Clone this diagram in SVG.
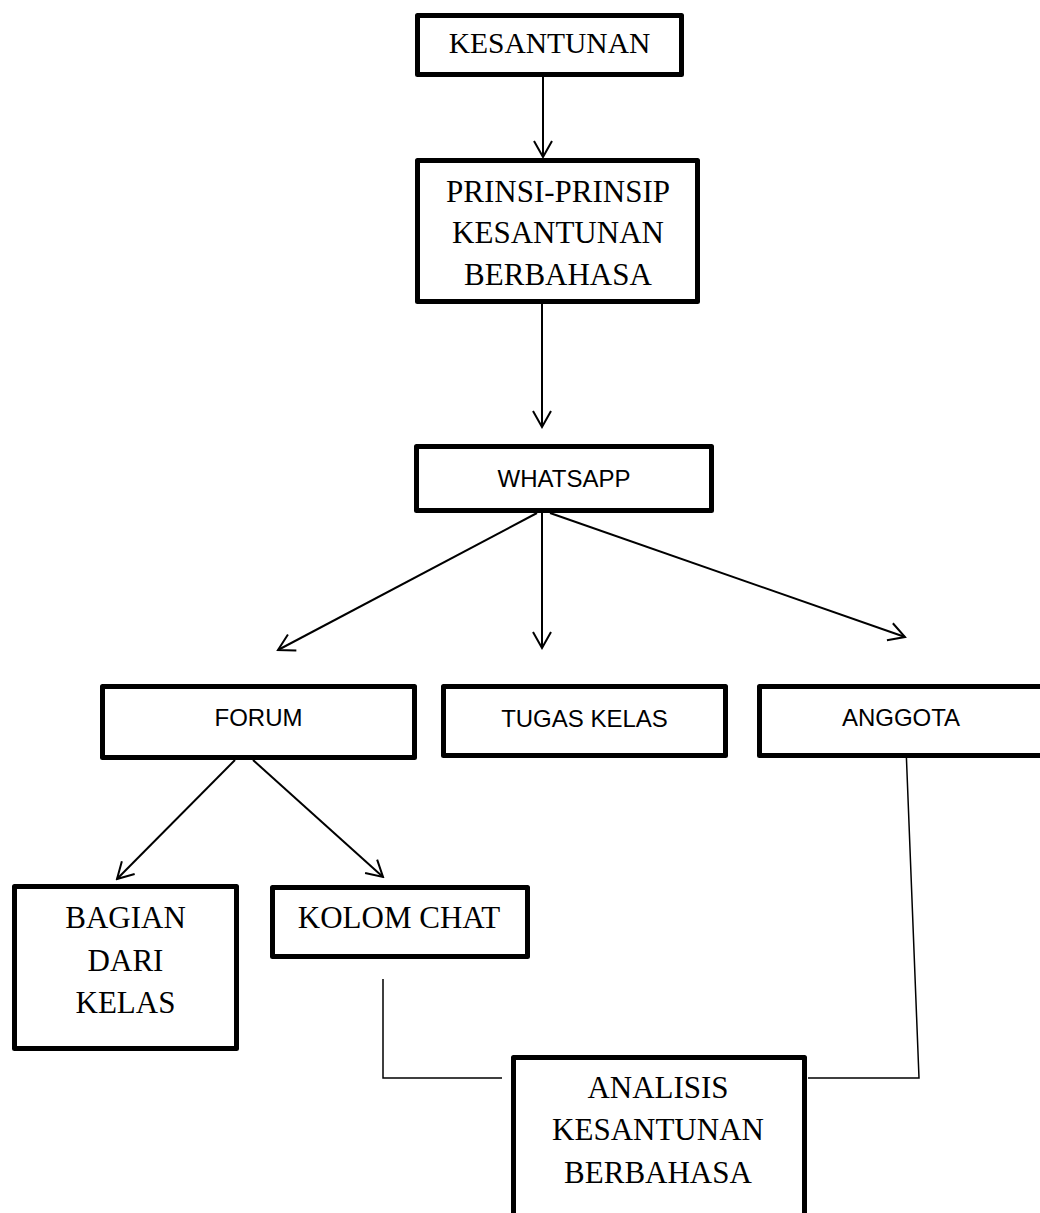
<svg xmlns="http://www.w3.org/2000/svg" width="1040" height="1213" viewBox="0 0 1040 1213">
<style>
.box{fill:#fff;stroke:#000;stroke-width:5;stroke-linejoin:round}
.serif{font-family:"Liberation Serif","Times New Roman",serif;font-size:31px;fill:#000;text-anchor:middle}
.sans{font-family:"Liberation Sans",Arial,sans-serif;font-size:24px;fill:#000;text-anchor:middle}
.arrow{fill:none;stroke:#000;stroke-width:2;marker-end:url(#head)}
.link{fill:none;stroke:#000;stroke-width:1.5}
</style>
<defs>
<marker id="head" markerUnits="userSpaceOnUse" viewBox="-18 -11 20 22" refX="0" refY="0" markerWidth="20" markerHeight="22" orient="auto">
<path d="M-16,-9 L0,0 L-16,9" fill="none" stroke="#000" stroke-width="2"/>
</marker>
</defs>
<rect width="1040" height="1213" fill="#fff"/>
<g id="connectors">
<line class="arrow" x1="543" y1="77" x2="543" y2="157"/>
<line class="arrow" x1="542" y1="304" x2="542" y2="427"/>
<line class="arrow" x1="537" y1="513" x2="278" y2="650"/>
<line class="arrow" x1="542" y1="513" x2="542" y2="648"/>
<line class="arrow" x1="550" y1="513" x2="905" y2="637"/>
<line class="arrow" x1="235" y1="760" x2="117" y2="879"/>
<line class="arrow" x1="253" y1="760" x2="383" y2="877"/>
<polyline class="link" points="906,747 919,1078 808,1078"/>
<polyline class="link" points="383,979 383,1078 502,1078"/>
</g>
<g id="kesantunan">
<rect class="box" x="417.5" y="15.5" width="264" height="59"/>
<text class="serif" x="549.5" y="53" style="font-size:29.5px">KESANTUNAN</text>
</g>
<g id="prinsip">
<rect class="box" x="417.5" y="160.5" width="280" height="141"/>
<text class="serif" x="558" y="202">PRINSI-PRINSIP</text>
<text class="serif" x="558" y="243">KESANTUNAN</text>
<text class="serif" x="558" y="285">BERBAHASA</text>
</g>
<g id="whatsapp">
<rect class="box" x="416.5" y="446.5" width="295" height="64"/>
<text class="sans" x="564" y="487">WHATSAPP</text>
</g>
<g id="forum">
<rect class="box" x="102.5" y="686.5" width="312" height="71"/>
<text class="sans" x="258.5" y="726">FORUM</text>
</g>
<g id="tugas">
<rect class="box" x="443.5" y="686.5" width="282" height="69"/>
<text class="sans" x="584.5" y="727">TUGAS KELAS</text>
</g>
<g id="anggota">
<rect class="box" x="759.5" y="686.5" width="300" height="69"/>
<text class="sans" x="901" y="726">ANGGOTA</text>
</g>
<g id="bagian">
<rect class="box" x="14.5" y="886.5" width="222" height="162"/>
<text class="serif" x="125.5" y="928">BAGIAN</text>
<text class="serif" x="125.5" y="971">DARI</text>
<text class="serif" x="125.5" y="1013">KELAS</text>
</g>
<g id="kolom">
<rect class="box" x="272.5" y="887.5" width="255" height="69"/>
<text class="serif" x="399" y="928">KOLOM CHAT</text>
</g>
<g id="analisis">
<rect class="box" x="513.5" y="1057.5" width="291" height="180"/>
<text class="serif" x="658" y="1098">ANALISIS</text>
<text class="serif" x="658" y="1140">KESANTUNAN</text>
<text class="serif" x="658" y="1183">BERBAHASA</text>
</g>
</svg>
